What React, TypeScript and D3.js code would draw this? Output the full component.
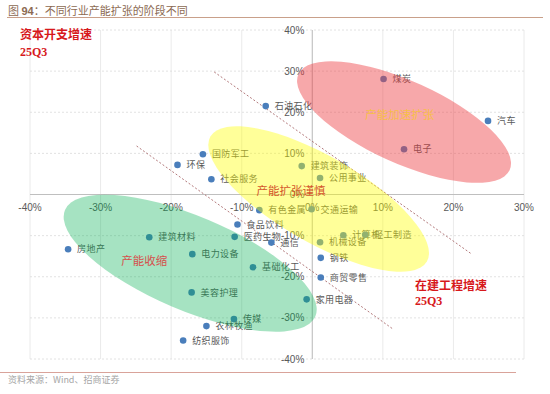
import * as d3 from "d3";

// 行业、在建工程增速（x）、资本开支增速（y），单位 %
const industries = [
  "煤炭", "汽车", "电子", "石油石化", "建筑装饰", "公用事业", "交通运输",
  "国防军工", "环保", "社会服务", "有色金属", "食品饮料", "医药生物", "通信",
  "机械设备", "计算机", "轻工制造", "钢铁", "基础化工", "电力设备", "建筑材料",
  "房地产", "美容护理", "传媒", "农林牧渔", "家用电器", "商贸零售", "纺织服饰",
];
const cipGrowth = [
  10.1, 24.9, 13.0, -6.6, -1.5, 1.1, -0.1,
  -15.5, -19.1, -14.3, -7.5, -10.6, -11.0, -5.8,
  1.1, 4.4, 7.5, 1.2, -8.4, -17.0, -23.1,
  -34.6, -17.1, -11.1, -15.0, -0.8, 1.2, -18.3,
];
const capexGrowth = [
  28.1, 17.9, 11.0, 21.5, 6.9, 4.0, -3.6,
  9.8, 7.2, 3.7, -3.8, -7.3, -10.3, -11.7,
  -11.6, -9.9, -9.8, -15.4, -17.7, -14.5, -10.4,
  -13.3, -23.8, -30.3, -32.0, -25.5, -20.2, -35.5,
];

const xTicks = [-40, -30, -20, -10, 0, 10, 20, 30];
const yTicks = [-40, -30, -20, -10, 0, 10, 20, 30, 40];

// 分隔虚线（数据坐标端点）
const dividerStarts = [[-13.9, 29.8], [-24.9, 11.8]];
const dividerEnds = [[22.6, -14.5], [11.5, -32.8]];

// 阶段区域
const zoneNames = ["产能收缩", "产能扩张谨慎", "产能加速扩张"];
const zoneCenters = [[-17.3, -16.7], [0.9, -1.1], [13.0, 17.6]];
const zoneLabelPos = [[-23.8, -16.2], [-3.0, 0.9], [12.4, 19.3]];

const W = 550;
const H = 394;
const x = d3.scaleLinear().domain([-40, 30]).range([30, 524]);
const y = d3.scaleLinear().domain([-40, 40]).range([359, 30]);

const zoneShape = [
  { rx: 136, ry: 47, rot: 23, fill: "rgb(0,176,80)", op: 0.35, text: "#d6504c" },
  { rx: 125, ry: 43, rot: 30, fill: "rgb(255,255,0)", op: 0.4, text: "#d4562c" },
  { rx: 116, ry: 41, rot: 24.4, fill: "rgb(238,62,67)", op: 0.45, text: "#f7bf48" },
];

const cjk = "'Noto Sans CJK SC', sans-serif";
const latin = "'Liberation Sans', Arial, sans-serif";

export default function App() {
  const pts = industries.map((name, i) => ({ name, cx: x(cipGrowth[i]), cy: y(capexGrowth[i]) }));
  const x0 = x(0);
  const y0 = y(0);

  return (
    <svg width={W} height={H} style={{ position: "absolute", left: 0, top: 0, background: "#fff" }}>
      {/* title */}
      <text x={8} y={15} fontFamily={cjk} fontSize={11} fill="#8c6a52">
        图 <tspan fontFamily={latin} fontWeight="bold">94</tspan>：不同行业产能扩张的阶段不同
      </text>
      <line x1={7} x2={543} y1={17.5} y2={17.5} stroke="#c9a08a" strokeWidth={1} />

      {/* grid */}
      {xTicks.map((t) => (
        <line key={"vx" + t} x1={x(t)} x2={x(t)} y1={y(40)} y2={y(-40)} stroke="#e4e4e4" strokeWidth={0.8} />
      ))}
      {yTicks.map((t) => (
        <line key={"hy" + t} x1={x(-40)} x2={x(30)} y1={y(t)} y2={y(t)} stroke="#dadada" strokeWidth={0.8} strokeDasharray="2,2" />
      ))}
      <line x1={x(-40)} x2={x(30)} y1={y0} y2={y0} stroke="#bfbfbf" strokeWidth={1} />
      <line x1={x0} x2={x0} y1={y(40)} y2={y(-40)} stroke="#bfbfbf" strokeWidth={1} />

      {/* tick labels */}
      {xTicks.map((t) => (
        <text key={"tx" + t} x={x(t)} y={y0 + 16} textAnchor="middle" fontFamily={latin} fontSize={10} fill="#595959">
          {t}%
        </text>
      ))}
      {yTicks.map((t) => (
        <text key={"ty" + t} x={x0 - 8} y={y(t) + 3.5} textAnchor="end" fontFamily={latin} fontSize={10} fill="#595959">
          {t}%
        </text>
      ))}

      {/* dividers */}
      {dividerStarts.map((s, i) => (
        <line key={"d" + i} x1={x(s[0])} y1={y(s[1])} x2={x(dividerEnds[i][0])} y2={y(dividerEnds[i][1])}
          stroke="#a0585a" strokeWidth={0.8} strokeDasharray="2,2" />
      ))}

      {/* points */}
      {pts.map((p) => (
        <g key={p.name}>
          <circle cx={p.cx} cy={p.cy} r={3.3} fill="#4a7ebb" />
          <text x={p.cx + 9} y={p.cy + 3.2} fontFamily={cjk} fontSize={9} fill="#595959" letterSpacing={0.4}>
            {p.name}
          </text>
        </g>
      ))}

      {/* zones */}
      {zoneCenters.map((c, i) => (
        <ellipse key={"z" + i} cx={x(c[0])} cy={y(c[1])} rx={zoneShape[i].rx} ry={zoneShape[i].ry}
          transform={`rotate(${zoneShape[i].rot} ${x(c[0])} ${y(c[1])})`}
          fill={zoneShape[i].fill} fillOpacity={zoneShape[i].op} />
      ))}
      {zoneNames.map((n, i) => (
        <text key={n} x={x(zoneLabelPos[i][0])} y={y(zoneLabelPos[i][1]) + 4} textAnchor="middle"
          fontFamily={cjk} fontSize={11.5} fill={zoneShape[i].text}>
          {n}
        </text>
      ))}

      {/* axis notes */}
      <text x={20} y={39} fontFamily={cjk} fontSize={12} fontWeight="bold" fill="#d7191c">资本开支增速</text>
      <text x={20} y={56} fontFamily="'Liberation Serif', serif" fontSize={12} fontWeight="bold" fill="#d7191c">25Q3</text>
      <text x={415} y={290} fontFamily={cjk} fontSize={12} fontWeight="bold" fill="#d7191c">在建工程增速</text>
      <text x={415} y={305} fontFamily="'Liberation Serif', serif" fontSize={12} fontWeight="bold" fill="#d7191c">25Q3</text>

      {/* source */}
      <line x1={0} x2={516} y1={372.5} y2={372.5} stroke="#d9a39a" strokeWidth={1} />
      <text x={8} y={383} fontFamily={cjk} fontSize={9} fill="#a6a6a6">资料来源：Wind、招商证券</text>
    </svg>
  );
}
